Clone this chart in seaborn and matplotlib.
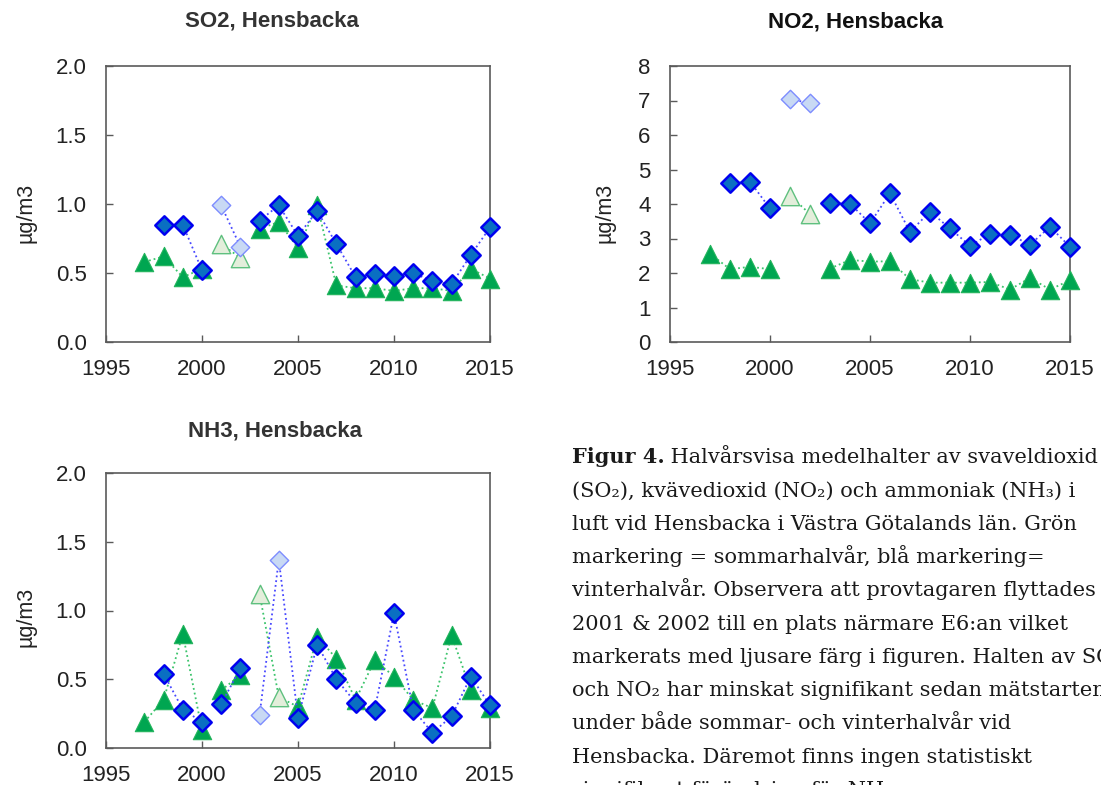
import numpy as np
import pandas as pd
import matplotlib
matplotlib.use("Agg")
import matplotlib.pyplot as plt
import seaborn as sns

# ---------------- data ----------------
years = list(range(1997, 2016))
nan = np.nan

so2_summer = [0.58, 0.62, 0.47, 0.53, 0.71, 0.61, 0.82, 0.87, 0.68, 0.99,
              0.41, 0.39, 0.39, 0.37, 0.39, 0.39, 0.37, 0.53, 0.46]
so2_winter = [nan, 0.85, 0.85, 0.52, 0.99, 0.69, 0.88, 0.99, 0.77, 0.95,
              0.71, 0.47, 0.49, 0.48, 0.50, 0.44, 0.42, 0.63, 0.83]

no2_summer = [2.56, 2.11, 2.18, 2.11, 4.24, 3.71, 2.13, 2.38, 2.33, 2.34,
              1.82, 1.72, 1.72, 1.72, 1.74, 1.52, 1.86, 1.52, 1.79]
no2_winter = [nan, 4.60, 4.65, 3.87, 7.03, 6.93, 4.03, 4.01, 3.44, 4.31,
              3.19, 3.78, 3.29, 2.79, 3.13, 3.11, 2.82, 3.34, 2.76]

nh3_summer = [0.19, 0.35, 0.83, 0.13, 0.42, 0.53, 1.12, 0.37, 0.30, 0.81,
              0.65, 0.35, 0.64, 0.52, 0.35, 0.29, 0.82, 0.42, 0.29]
nh3_winter = [nan, 0.54, 0.28, 0.19, 0.32, 0.58, 0.24, 1.37, 0.22, 0.75,
              0.50, 0.33, 0.28, 0.98, 0.28, 0.11, 0.23, 0.52, 0.31]

so2_light_years = [2001, 2002]
no2_light_years = [2001, 2002]
nh3_light_years = [2003, 2004]

titles = ["SO2, Hensbacka", "NO2, Hensbacka", "NH3, Hensbacka"]
ylabel = "µg/m3"
x_ticks = [1995, 2000, 2005, 2010, 2015]
so2_yticks = [0.0, 0.5, 1.0, 1.5, 2.0]
no2_yticks = [0, 1, 2, 3, 4, 5, 6, 7, 8]
nh3_yticks = [0.0, 0.5, 1.0, 1.5, 2.0]

caption_bold = "Figur 4."
caption_lines = [
    " Halvårsvisa medelhalter av svaveldioxid",
    "(SO₂), kvävedioxid (NO₂) och ammoniak (NH₃) i",
    "luft vid Hensbacka i Västra Götalands län. Grön",
    "markering = sommarhalvår, blå markering=",
    "vinterhalvår. Observera att provtagaren flyttades",
    "2001 & 2002 till en plats närmare E6:an vilket",
    "markerats med ljusare färg i figuren. Halten av SO₂",
    "och NO₂ har minskat signifikant sedan mätstarten",
    "under både sommar- och vinterhalvår vid",
    "Hensbacka. Däremot finns ingen statistiskt",
    "signifikant förändring för NH₃",
]

# ---------------- style ----------------
sns.set_theme(style="white")
plt.rcParams["font.family"] = ["Liberation Sans", "DejaVu Sans"]
serif = ["DejaVu Serif", "DejaVu Sans"]

W, H = 1101, 785
fig = plt.figure(figsize=(W / 100, H / 100), dpi=100)


def box(l, t, r, b):
    return [l / W, 1 - b / H, (r - l) / W, (b - t) / H]


style = {
    "summer": dict(line="#3cc46c", marker="^", s=175,
                   dark_face="#00a651", dark_edge="#22b45c", dark_lw=0.8,
                   light_face="#e3eedb", light_edge="#5fc07f", light_lw=1.0),
    "winter": dict(line="#4848ff", marker="D", s=88,
                   dark_face="#0a6fc2", dark_edge="#0000f0", dark_lw=1.8,
                   light_face="#c8d9f4", light_edge="#7d8cff", light_lw=1.0),
}


def segment_of(yr):
    return 0 if yr <= 2000 else (1 if yr <= 2002 else 2)


def build(summer, winter, light):
    rows = []
    for season, vals in (("summer", summer), ("winter", winter)):
        for yr, v in zip(years, vals):
            if np.isnan(v):
                continue
            rows.append(dict(year=yr, value=v, season=season,
                             seg=segment_of(yr), light=yr in light))
    return pd.DataFrame(rows)


def draw_panel(ax, df, yticks, fmt):
    z = 2
    for season in ("summer", "winter"):
        st = style[season]
        d = df[df.season == season]
        sns.lineplot(data=d, x="year", y="value", units="seg", estimator=None,
                     color=st["line"], linestyle=":", linewidth=1.3, ax=ax,
                     legend=False, zorder=z)
        for is_light in (False, True):
            dd = d[d.light == is_light]
            key = "light" if is_light else "dark"
            sns.scatterplot(data=dd, x="year", y="value", marker=st["marker"],
                            s=st["s"], color=st[key + "_face"],
                            edgecolor=st[key + "_edge"],
                            linewidth=st[key + "_lw"], ax=ax, legend=False,
                            zorder=z + 1, clip_on=False)
        z += 2
    ax.set_xlim(1995, 2015)
    ax.set_ylim(yticks[0], yticks[-1])
    ax.set_xticks(x_ticks)
    ax.set_yticks(yticks)
    ax.set_yticklabels([fmt.format(v) for v in yticks])
    ax.set_xlabel("")
    ax.set_ylabel("")
    ax.tick_params(axis="both", direction="in", length=5, width=1,
                   color="#5a5a5a", labelsize=16, labelcolor="#222222",
                   bottom=True, left=True)
    ax.tick_params(axis="x", pad=12)
    ax.tick_params(axis="y", pad=14)
    for sp in ax.spines.values():
        sp.set_visible(True)
        sp.set_color("#5a5a5a")
        sp.set_linewidth(1.2)
    ax.grid(False)


ax1 = fig.add_axes(box(106, 66, 490, 342))
draw_panel(ax1, build(so2_summer, so2_winter, so2_light_years), so2_yticks, "{:.1f}")
ax2 = fig.add_axes(box(670, 66, 1070, 342))
draw_panel(ax2, build(no2_summer, no2_winter, no2_light_years), no2_yticks, "{:d}")
ax3 = fig.add_axes(box(106, 473, 490, 748))
draw_panel(ax3, build(nh3_summer, nh3_winter, nh3_light_years), nh3_yticks, "{:.1f}")

# titles
fig.text(272 / W, 1 - 21 / H, titles[0], ha="center", va="center",
         fontsize=16, fontweight="bold", color="#333333")
fig.text(856 / W, 1 - 22 / H, titles[1], ha="center", va="center",
         fontsize=16, fontweight="bold", color="#111111")
fig.text(275 / W, 1 - 431 / H, titles[2], ha="center", va="center",
         fontsize=16, fontweight="bold", color="#333333")

# y labels
for (x, y) in ((26, 213), (605, 213), (26, 617)):
    fig.text(x / W, 1 - y / H, ylabel, ha="center", va="center",
             rotation=90, fontsize=15.5, color="#222222")

# caption
renderer = fig.canvas.get_renderer()
pb = fig.text(0, 0, caption_bold, fontsize=16, fontweight="bold", family=serif)
pr = fig.text(0, 0, caption_lines[0], fontsize=16, family=serif)
wb = pb.get_window_extent(renderer).width
wr = pr.get_window_extent(renderer).width
pb.remove()
pr.remove()
fs = 16 * 526 / (wb + wr)
bold_w = wb * fs / 16

x0 = 572
base0 = 463
step = 33.3
for i, line in enumerate(caption_lines):
    yb = 1 - (base0 + i * step) / H
    x = x0
    if i == 0:
        fig.text(x0 / W, yb, caption_bold, fontsize=fs, fontweight="bold",
                 family=serif, color="#1a1a1a", va="baseline", ha="left")
        x = x0 + bold_w
    fig.text(x / W, yb, line, fontsize=fs, family=serif, color="#1a1a1a",
             va="baseline", ha="left")

fig.savefig("out.png", dpi=100)
